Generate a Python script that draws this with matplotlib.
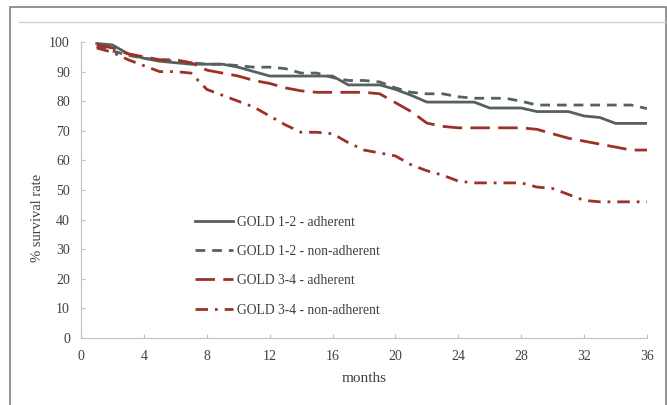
import matplotlib
matplotlib.use('Agg')
import matplotlib.pyplot as plt
from matplotlib.patches import Rectangle
from matplotlib.lines import Line2D

plt.rcParams['font.family'] = ['Liberation Serif', 'DejaVu Serif']
plt.rcParams['lines.scale_dashes'] = False

months = list(range(1, 37))

# GOLD 1-2 adherent
adh_12 = [99.5, 99, 96, 94.5, 93.5, 93, 92.5, 92.5, 92.5, 91.5, 90, 88.5,
          88.5, 88.5, 88.5, 88.5, 85.5, 85.5, 85.5, 84, 82, 79.7,
          79.7, 79.7, 79.7, 77.7, 77.7, 77.7, 76.5, 76.5, 76.5, 75,
          74.5, 72.5, 72.5, 72.5]
# GOLD 1-2 non-adherent
non_12 = [98.5, 97, 95.5, 94.5, 94, 93.5, 93, 92.5, 92.5, 92, 91.5, 91.5,
          91, 89.5, 89.5, 88, 87, 87, 86.5, 84.5, 83, 82.5,
          82.5, 81.5, 81, 81, 81, 80, 78.7, 78.7, 78.7, 78.7,
          78.7, 78.7, 78.7, 77.5]
# GOLD 3-4 adherent
adh_34 = [99, 98, 96, 95, 94, 94, 93, 90.5, 89.5, 88.5, 87, 86,
          84.5, 83.5, 83, 83, 83, 83, 82.5, 79.5, 76.5, 72.6,
          71.5, 71, 71, 71, 71, 71, 70.5, 69, 67.5, 66.5,
          65.5, 64.5, 63.5, 63.5]
# GOLD 3-4 non-adherent
non_34 = [98, 96.5, 94, 92, 90, 90, 89.5, 84, 82, 80, 78, 75,
          72, 69.5, 69.5, 69, 66, 63.5, 62.5, 61.5, 58.5, 56.5,
          55, 53, 52.4, 52.4, 52.4, 52.4, 51, 50.5, 48.5, 46.5,
          46, 46, 46, 46]

labels = ['GOLD 1-2 - adherent', 'GOLD 1-2 - non-adherent',
          'GOLD 3-4 - adherent', 'GOLD 3-4 - non-adherent']

gray = '#576060'
red = '#9e3127'

fig = plt.figure(figsize=(6.67, 4.05), dpi=100)

# outer frame and top rule
fig.patches.append(Rectangle((10 / 667, -0.05), 656 / 667, 1.05 - 7 / 405,
                             transform=fig.transFigure, fill=False,
                             edgecolor='#808080', linewidth=1.2))
fig.add_artist(Line2D([19 / 667, 665 / 667], [1 - 22 / 405, 1 - 22 / 405],
                      transform=fig.transFigure, color='#d0d0d0', lw=1))

ax = fig.add_axes([81 / 667, 67 / 405, 566 / 667, 296 / 405])

ax.plot(months, adh_12, color=gray, lw=2.0, label=labels[0])
ax.plot(months, non_12, color=gray, lw=2.0, dashes=(7, 5), label=labels[1])
ax.plot(months, adh_34, color=red, lw=2.0, dashes=(14, 6), label=labels[2])
ax.plot(months, non_34, color=red, lw=2.0, dashes=(9, 5, 2, 5), label=labels[3])

ax.set_xlim(0, 36)
ax.set_ylim(0, 100)
ax.set_xticks(range(0, 37, 4))
ax.set_yticks(range(0, 101, 10))
for s in ['top', 'right']:
    ax.spines[s].set_visible(False)
for s in ['left', 'bottom']:
    ax.spines[s].set_color('#bfbfbf')
ax.tick_params(colors='#bfbfbf', labelcolor='#404040', labelsize=10,
               length=3, direction='in')
ax.tick_params(axis='x', pad=9)
ax.tick_params(axis='y', pad=8)

ax.set_xlabel('months', fontsize=11, color='#404040', labelpad=6)
ax.set_ylabel('% survival rate', fontsize=10.5, color='#404040')
ax.yaxis.set_label_coords(-0.066, 0.405)

ax.legend(loc='upper left', bbox_to_anchor=(0.18, 0.455), frameon=False,
          fontsize=9.8, handlelength=2.8, handletextpad=0.3, labelspacing=1.2,
          labelcolor='#404040')

fig.savefig('out.png', dpi=100)
